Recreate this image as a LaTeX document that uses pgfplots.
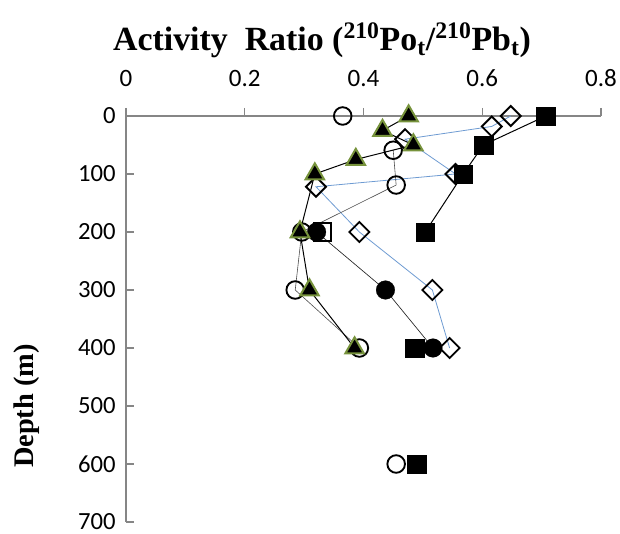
\documentclass[border=0pt]{standalone}
\usepackage{fontspec}
\setmainfont{Liberation Serif}
\newfontfamily\calib{Carlito}
\usepackage{pgfplots}
\pgfplotsset{compat=1.18}
\definecolor{olivegr}{RGB}{119,147,60}
\definecolor{axgray}{RGB}{134,134,134}
\definecolor{lblue}{RGB}{110,155,210}
\begin{document}
\begin{tikzpicture}
\useasboundingbox (0,0) rectangle (465pt,400.5pt);
\begin{axis}[
  at={(94.5pt,313.5pt)}, anchor=north west,
  scale only axis, width=356.25pt, height=304.5pt,
  xmin=0, xmax=0.8, ymin=0, ymax=700, y dir=reverse,
  axis x line=top, axis y line=left,
  axis line style={-, draw=axgray, line width=1.1pt},
  xtick={0,0.2,0.4,0.6,0.8}, ytick={0,100,200,300,400,500,600,700},
  tick align=inside, major tick length=6pt,
  every major x tick/.append style={yshift=6pt},
  tick style={draw=axgray, line width=1.1pt},
  /pgf/number format/assume math mode=true,
  xticklabel style={font=\calib\fontsize{18.75}{20}\selectfont, anchor=base, inner sep=0pt, yshift=21.75pt},
  yticklabel style={font=\calib\fontsize{18.5}{20}\selectfont, anchor=east, inner sep=0pt, xshift=-7.5pt},
  clip=false,
]
% open diamonds, blue line
\addplot[lblue, line width=0.6pt, mark=square, mark size=5.3pt,
  mark options={rotate=45, draw=black, line width=1.4pt, solid}]
  coordinates {(0.648,0) (0.616,18) (0.470,40) (0.555,100) (0.320,122) (0.393,200) (0.516,300) (0.545,400)};
% open square
\addplot[only marks, mark=square, mark size=6.6pt, mark options={draw=black, line width=1.4pt}]
  coordinates {(0.331,200)};
% open circles, thin gray line
\addplot[black!70, line width=0.45pt, mark=o, mark size=6.6pt,
  mark options={draw=black, line width=1.4pt}]
  coordinates {(0.450,59) (0.455,119) (0.296,200) (0.285,300) (0.393,400)};
\addplot[only marks, mark=o, mark size=6.6pt, mark options={draw=black, line width=1.4pt}]
  coordinates {(0.365,0) (0.455,600)};
% filled circles
\addplot[black!85, line width=0.5pt, mark=*, mark size=7pt,
  mark options={draw=black, fill=black, line width=0.2pt}]
  coordinates {(0.321,200) (0.437,300) (0.517,400)};
% triangles
\addplot[black, line width=0.75pt, mark=triangle*, mark size=8pt,
  mark options={draw=olivegr, fill=black, line width=1.5pt}]
  coordinates {(0.476,0) (0.432,25) (0.484,50) (0.387,75) (0.318,100) (0.293,200) (0.309,300) (0.385,400)};
% filled squares
\addplot[black, line width=0.75pt, mark=square*, mark size=7pt,
  mark options={draw=black, fill=black, line width=0.2pt}]
  coordinates {(0.707,0) (0.602,50) (0.568,100) (0.504,200)};
\addplot[only marks, mark=square*, mark size=7pt, mark options={draw=black, fill=black, line width=0.2pt}]
  coordinates {(0.486,400) (0.489,600)};
\end{axis}
\node[font=\bfseries\fontsize{25.4}{28}\selectfont] at (241.5pt,370.5pt)
  {Activity\ \ Ratio (\textsuperscript{210}Po\textsubscript{t}/\textsuperscript{210}Pb\textsubscript{t})};
\node[font=\bfseries\fontsize{21.3}{24}\selectfont, rotate=90] at (20.25pt,96pt) {Depth (m)};
\end{tikzpicture}
\end{document}
